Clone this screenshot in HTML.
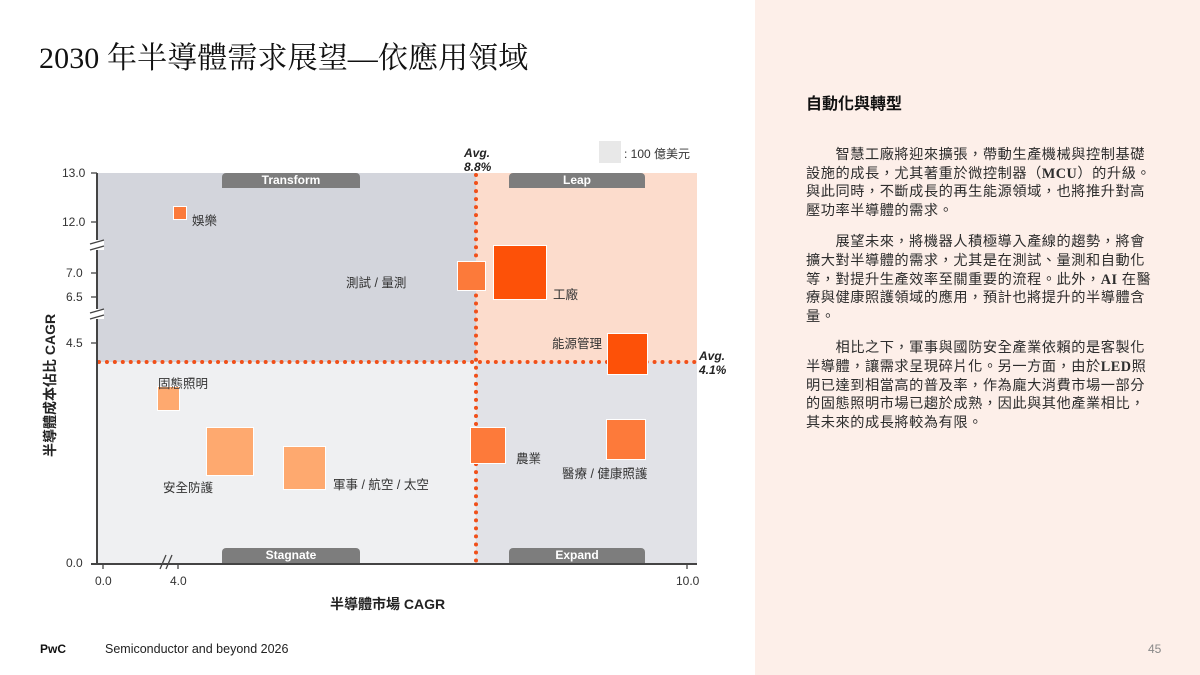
<!DOCTYPE html>
<html><head><meta charset="utf-8"><style>
*{margin:0;padding:0;box-sizing:border-box}
body{width:1200px;height:675px;position:relative;background:#fff;font-family:"Liberation Sans","Noto Sans CJK TC",sans-serif;color:#2d2d2d;overflow:hidden}
.a{position:absolute}
.sq{position:absolute;border:1px solid #fff}
.lbl{position:absolute;font-size:12.5px;color:#333;white-space:nowrap}
.pill{position:absolute;background:#7d7d7d;color:#fff;font-weight:bold;font-size:12px;text-align:center;line-height:15px;height:15px;border-radius:4px 4px 0 0}
.tk{position:absolute;font-size:12px;color:#333}
.p{font-size:14.2px;line-height:18.7px;letter-spacing:0.55px;color:#2d2d2d;margin-bottom:12.5px;font-family:"Liberation Serif","Noto Sans CJK TC",sans-serif;white-space:nowrap}
</style></head><body>
<div class="a" style="left:39px;top:33px;font-size:30px;letter-spacing:0.1px;font-family:'Liberation Serif','Noto Serif CJK SC',serif;color:#111;white-space:nowrap">2030 年半導體需求展望—依應用領域</div>

<!-- right panel -->
<div class="a" style="left:755px;top:0;width:445px;height:675px;background:#fdefe9"></div>
<div class="a" style="left:806px;top:90px;font-size:16px;font-weight:bold;color:#111;font-family:'Noto Sans CJK TC',sans-serif">自動化與轉型</div>
<div class="a" style="left:806px;top:146px">
<div class="p">　　智慧工廠將迎來擴張，帶動生產機械與控制基礎<br>設施的成長，尤其著重於微控制器（<b>MCU</b>）的升級。<br>與此同時，不斷成長的再生能源領域，也將推升對高<br>壓功率半導體的需求。</div>
<div class="p">　　展望未來，將機器人積極導入產線的趨勢，將會<br>擴大對半導體的需求，尤其是在測試、量測和自動化<br>等，對提升生產效率至關重要的流程。此外，<b>AI</b> 在醫<br>療與健康照護領域的應用，預計也將提升的半導體含<br>量。</div>
<div class="p">　　相比之下，軍事與國防安全產業依賴的是客製化<br>半導體，讓需求呈現碎片化。另一方面，由於<b>LED</b>照<br>明已達到相當高的普及率，作為龐大消費市場一部分<br>的固態照明市場已趨於成熟，因此與其他產業相比，<br>其未來的成長將較為有限。</div>
</div>

<!-- quadrants -->
<div class="a" style="left:97px;top:173px;width:379px;height:189px;background:#d3d5dc"></div>
<div class="a" style="left:476px;top:173px;width:221px;height:189px;background:#fcdccc"></div>
<div class="a" style="left:97px;top:362px;width:379px;height:201px;background:#eff0f2"></div>
<div class="a" style="left:476px;top:362px;width:221px;height:201px;background:#e1e2e7"></div>

<div class="pill" style="left:222px;top:173px;width:138px">Transform</div>
<div class="pill" style="left:509px;top:173px;width:136px">Leap</div>
<div class="pill" style="left:222px;top:548px;width:138px">Stagnate</div>
<div class="pill" style="left:509px;top:548px;width:136px">Expand</div>

<!-- avg lines -->
<div class="a" style="left:474px;top:173px;height:390px;border-left:4px dotted #f0501a"></div>
<div class="a" style="left:97px;top:360px;width:600px;border-top:4px dotted #f0501a"></div>
<div class="a" style="left:464px;top:146px;font-size:12px;font-weight:bold;font-style:italic;line-height:14px;color:#222">Avg.<br>8.8%</div>
<div class="a" style="left:699px;top:349px;font-size:12px;font-weight:bold;font-style:italic;line-height:14px;color:#222">Avg.<br>4.1%</div>

<!-- legend -->
<div class="a" style="left:599px;top:141px;width:22px;height:22px;background:#e8e8e8"></div>
<div class="a" style="left:624px;top:145px;font-size:12px;color:#333">: 100 億美元</div>

<!-- axes -->
<div class="a" style="left:96px;top:173px;width:2px;height:391px;background:#444"></div>
<div class="a" style="left:91px;top:563px;width:606px;height:2px;background:#444"></div>
<div class="a" style="left:90px;top:240px;width:14px;height:10px;background:#fff"></div>
<div class="a" style="left:90px;top:309px;width:14px;height:10px;background:#fff"></div>
<svg class="a" style="left:0;top:0" width="760" height="600">
<g stroke="#444" stroke-width="1.3" fill="none">
<line x1="90" y1="244" x2="104" y2="240"/><line x1="90" y1="250" x2="104" y2="246"/>
<line x1="90" y1="313" x2="104" y2="309"/><line x1="90" y1="319" x2="104" y2="315"/>
<line x1="91" y1="173" x2="97" y2="173"/><line x1="91" y1="222" x2="97" y2="222"/>
<line x1="91" y1="273" x2="97" y2="273"/><line x1="91" y1="297" x2="97" y2="297"/>
<line x1="91" y1="343" x2="97" y2="343"/>
<line x1="103" y1="563" x2="103" y2="569"/><line x1="178" y1="563" x2="178" y2="569"/><line x1="687" y1="563" x2="687" y2="569"/>
<line x1="160" y1="569" x2="166" y2="555"/><line x1="166" y1="569" x2="172" y2="555"/>
</g></svg>
<div class="tk" style="left:62px;top:166px">13.0</div>
<div class="tk" style="left:62px;top:215px">12.0</div>
<div class="tk" style="left:66px;top:266px">7.0</div>
<div class="tk" style="left:66px;top:290px">6.5</div>
<div class="tk" style="left:66px;top:336px">4.5</div>
<div class="tk" style="left:66px;top:556px">0.0</div>
<div class="tk" style="left:95px;top:574px">0.0</div>
<div class="tk" style="left:170px;top:574px">4.0</div>
<div class="tk" style="left:676px;top:574px">10.0</div>
<div class="a" style="left:330px;top:594px;font-size:14px;font-weight:bold;color:#222">半導體市場 CAGR</div>
<div class="a" style="left:40px;top:457px;font-size:14px;font-weight:bold;color:#222;transform:rotate(-90deg);transform-origin:0 0;white-space:nowrap;width:160px">半導體成本佔比 CAGR</div>

<!-- squares -->
<div class="sq" style="left:173px;top:206px;width:14px;height:14px;background:#fb7a3a"></div>
<div class="lbl" style="left:192px;top:210px">娛樂</div>
<div class="sq" style="left:457px;top:261px;width:29px;height:30px;background:#fc7a3a"></div>
<div class="lbl" style="left:346px;top:272px">測試 / 量測</div>
<div class="sq" style="left:493px;top:245px;width:54px;height:55px;background:#fd5108"></div>
<div class="lbl" style="left:553px;top:284px">工廠</div>
<div class="sq" style="left:607px;top:333px;width:41px;height:42px;background:#fd5108"></div>
<div class="lbl" style="left:552px;top:333px">能源管理</div>
<div class="sq" style="left:157px;top:386px;width:23px;height:25px;background:#fea96f"></div>
<div class="lbl" style="left:158px;top:373px">固態照明</div>
<div class="sq" style="left:206px;top:427px;width:48px;height:49px;background:#fea96f"></div>
<div class="lbl" style="left:163px;top:477px">安全防護</div>
<div class="sq" style="left:283px;top:446px;width:43px;height:44px;background:#fea96f"></div>
<div class="lbl" style="left:333px;top:474px">軍事 / 航空 / 太空</div>
<div class="sq" style="left:470px;top:427px;width:36px;height:37px;background:#fd7a3a"></div>
<div class="lbl" style="left:516px;top:448px">農業</div>
<div class="sq" style="left:606px;top:419px;width:40px;height:41px;background:#fd7a3a"></div>
<div class="lbl" style="left:562px;top:463px">醫療 / 健康照護</div>

<!-- footer -->
<div class="a" style="left:40px;top:642px;font-size:12px;font-weight:bold;color:#111">PwC</div>
<div class="a" style="left:105px;top:642px;font-size:12.5px;color:#222">Semiconductor and beyond 2026</div>
<div class="a" style="left:1148px;top:642px;font-size:12px;color:#888">45</div>
</body></html>
